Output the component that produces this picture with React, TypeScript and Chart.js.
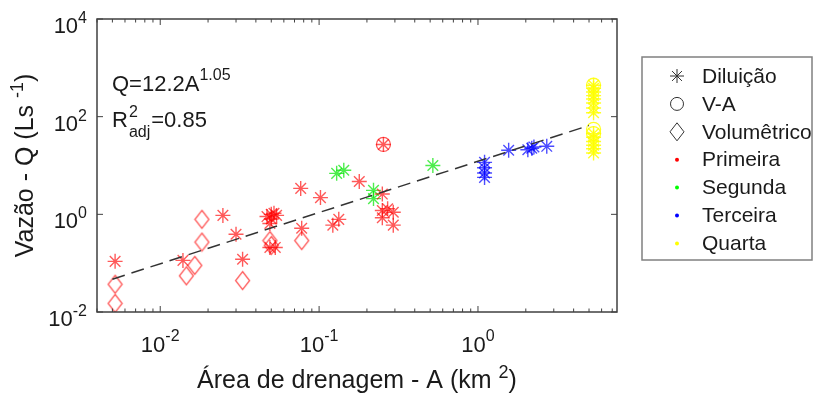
import React, { useEffect, useRef } from "react";
import { Chart, registerables } from "chart.js";

Chart.register(...registerables);

// Axis ranges and tick labels
const X_MIN = 0.004;
const X_MAX = 7.5;
const Y_MIN = 0.01;
const Y_MAX = 10000;
const xTickValues = [0.01, 0.1, 1];
const xTickExps = ["-2", "-1", "0"];
const yTickValues = [0.01, 1, 100, 10000];
const yTickExps = ["-2", "0", "2", "4"];

// Primeira (red) - Diluição
const primeiraDilA = [0.0052, 0.0139, 0.0248, 0.030, 0.033, 0.047, 0.050, 0.052, 0.054, 0.049, 0.050, 0.049, 0.053, 0.0766, 0.102, 0.0777, 0.122, 0.133, 0.179, 0.254, 0.25, 0.25, 0.25, 0.27, 0.293, 0.293];
const primeiraDilQ = [0.109, 0.114, 0.95, 0.39, 0.12, 0.9, 1.0, 1.05, 0.95, 0.65, 0.8, 0.21, 0.21, 3.4, 2.2, 0.52, 0.6, 0.79, 4.7, 27, 2.6, 1.2, 0.85, 1.3, 1.1, 0.6];
// Primeira - Volumétrico
const primeiraVolA = [0.0052, 0.0052, 0.0146, 0.0165, 0.0183, 0.0183, 0.033, 0.049, 0.050, 0.0777];
const primeiraVolQ = [0.037, 0.015, 0.055, 0.09, 0.27, 0.79, 0.044, 0.29, 0.23, 0.29];
// Primeira - V-A
const primeiraVaA = [0.254];
const primeiraVaQ = [27];
// Segunda (green) - Diluição
const segundaDilA = [0.129, 0.143, 0.22, 0.22, 0.52];
const segundaDilQ = [6.9, 8.0, 3.1, 2.1, 10];
// Terceira (blue) - Diluição
const terceiraDilA = [1.1, 1.1, 1.1, 1.1, 1.56, 2.06, 2.18, 2.25, 2.71];
const terceiraDilQ = [11.6, 9, 7, 5.7, 20.5, 21, 22.5, 24, 24.7];
// Quarta (yellow) - Diluição
const quartaDilA = [5.34, 5.34, 5.34, 5.34, 5.34, 5.34, 5.34, 5.34, 5.34, 5.34, 5.34, 5.34, 5.34, 5.34];
const quartaDilQ = [440, 380, 320, 270, 230, 190, 150, 120, 45, 38, 31, 26, 22, 18];
// Quarta - V-A
const quartaVaA = [5.34, 5.34, 5.34];
const quartaVaQ = [440, 55, 45];
// Fit line Q = 12.2 A^1.05 (end points)
const fitA = [0.005, 5.0];
const fitQ = [0.047, 66];

const RED = "rgba(255,0,0,0.65)";
const GREEN = "rgba(0,230,0,0.7)";
const BLUE = "rgba(0,0,255,0.7)";
const YELLOW = "rgba(255,255,0,0.85)";

const FONT = "'Liberation Sans', Arial, sans-serif";

const zip = (a: number[], b: number[]) => a.map((x, i) => ({ x, y: b[i] }));

function diamondPath(ctx: CanvasRenderingContext2D, cx: number, cy: number, w: number, h: number) {
  ctx.beginPath();
  ctx.moveTo(cx, cy - h / 2);
  ctx.lineTo(cx + w / 2, cy);
  ctx.lineTo(cx, cy + h / 2);
  ctx.lineTo(cx - w / 2, cy);
  ctx.closePath();
}

function makeDiamond(color: string) {
  const w = 14, h = 18;
  const c = document.createElement("canvas");
  c.width = w + 3;
  c.height = h + 3;
  const ctx = c.getContext("2d")!;
  ctx.strokeStyle = color;
  ctx.lineWidth = 1.3;
  diamondPath(ctx, c.width / 2, c.height / 2, w, h);
  ctx.stroke();
  return c;
}

function starDataset(data: { x: number; y: number }[], color: string) {
  return {
    data,
    pointStyle: "star",
    pointRadius: 7.5,
    pointBorderWidth: 1.4,
    borderColor: color,
    backgroundColor: color,
    showLine: false,
  };
}

function circleDataset(data: { x: number; y: number }[], color: string) {
  return {
    data,
    pointStyle: "circle",
    pointRadius: 7,
    pointBorderWidth: 1.3,
    borderColor: color,
    backgroundColor: "rgba(0,0,0,0)",
    showLine: false,
  };
}

function drawSupText(
  ctx: CanvasRenderingContext2D,
  base: string,
  sup: string,
  x: number,
  y: number,
  baseSize: number,
  supSize: number,
  supRise: number,
  align: "left" | "center" | "right"
) {
  ctx.font = `${baseSize}px ${FONT}`;
  const wb = ctx.measureText(base).width;
  ctx.font = `${supSize}px ${FONT}`;
  const ws = ctx.measureText(sup).width;
  const total = wb + ws;
  let x0 = x;
  if (align === "center") x0 = x - total / 2;
  if (align === "right") x0 = x - total;
  ctx.textAlign = "left";
  ctx.textBaseline = "alphabetic";
  ctx.font = `${baseSize}px ${FONT}`;
  ctx.fillText(base, x0, y);
  ctx.font = `${supSize}px ${FONT}`;
  ctx.fillText(sup, x0 + wb, y - supRise);
}

const axesPlugin = {
  id: "matlabAxes",
  afterDraw(chart: any) {
    const { ctx } = chart;
    const { left, right, top, bottom } = chart.chartArea;
    const xs = chart.scales.x;
    const ys = chart.scales.y;
    ctx.save();

    // frame
    ctx.strokeStyle = "#404040";
    ctx.lineWidth = 1.5;
    ctx.strokeRect(left, top, right - left, bottom - top);

    // x ticks (major + minor) on bottom and top
    ctx.lineWidth = 1;
    for (let e = -3; e <= 1; e++) {
      for (let m = 1; m <= 9; m++) {
        const v = m * Math.pow(10, e);
        if (v < X_MIN || v > X_MAX) continue;
        const px = xs.getPixelForValue(v);
        const len = m === 1 ? 6 : 3.5;
        ctx.beginPath();
        ctx.moveTo(px, bottom);
        ctx.lineTo(px, bottom - len);
        ctx.moveTo(px, top);
        ctx.lineTo(px, top + len);
        ctx.stroke();
      }
    }
    // y ticks (major only) on left and right
    yTickValues.forEach((v) => {
      const py = ys.getPixelForValue(v);
      ctx.beginPath();
      ctx.moveTo(left, py);
      ctx.lineTo(left + 6, py);
      ctx.moveTo(right, py);
      ctx.lineTo(right - 6, py);
      ctx.stroke();
    });

    ctx.fillStyle = "#1a1a1a";
    // x tick labels
    xTickValues.forEach((v, i) => {
      const px = xs.getPixelForValue(v);
      drawSupText(ctx, "10", xTickExps[i], px, 352, 22, 16, 11, "center");
    });
    // y tick labels
    yTickValues.forEach((v, i) => {
      const py = ys.getPixelForValue(v);
      drawSupText(ctx, "10", yTickExps[i], 87, py + 14, 22, 16, 10, "right");
    });

    // x axis title
    {
      const base = "Área de drenagem - A (km ";
      const sup = "2";
      const tail = ")";
      ctx.font = `25px ${FONT}`;
      const wb = ctx.measureText(base).width;
      const wt = ctx.measureText(tail).width;
      ctx.font = `18px ${FONT}`;
      const ws = ctx.measureText(sup).width;
      const total = wb + ws + wt;
      const cx = (left + right) / 2;
      const x0 = cx - total / 2;
      ctx.textAlign = "left";
      ctx.textBaseline = "alphabetic";
      ctx.font = `25px ${FONT}`;
      ctx.fillText(base, x0, 388);
      ctx.font = `18px ${FONT}`;
      ctx.fillText(sup, x0 + wb, 378);
      ctx.font = `25px ${FONT}`;
      ctx.fillText(tail, x0 + wb + ws, 388);
    }

    // y axis title
    {
      const base = "Vazão - Q (Ls ";
      const sup = "-1";
      const tail = ")";
      ctx.save();
      ctx.translate(33, (top + bottom) / 2);
      ctx.rotate(-Math.PI / 2);
      ctx.font = `25px ${FONT}`;
      const wb = ctx.measureText(base).width;
      const wt = ctx.measureText(tail).width;
      ctx.font = `18px ${FONT}`;
      const ws = ctx.measureText(sup).width;
      const total = wb + ws + wt;
      const x0 = -total / 2;
      ctx.textAlign = "left";
      ctx.textBaseline = "alphabetic";
      ctx.font = `25px ${FONT}`;
      ctx.fillText(base, x0, 0);
      ctx.font = `18px ${FONT}`;
      ctx.fillText(sup, x0 + wb, -10);
      ctx.font = `25px ${FONT}`;
      ctx.fillText(tail, x0 + wb + ws, 0);
      ctx.restore();
    }

    // annotation
    {
      ctx.textAlign = "left";
      ctx.textBaseline = "alphabetic";
      drawSupText(ctx, "Q=12.2A", "1.05", 112, 91, 22, 16, 11, "left");
      ctx.font = `22px ${FONT}`;
      const wR = ctx.measureText("R").width;
      ctx.fillText("R", 112, 127);
      ctx.font = `16px ${FONT}`;
      ctx.fillText("2", 112 + wR + 1, 117);
      const wadj = ctx.measureText("adj").width;
      ctx.fillText("adj", 112 + wR + 1, 137);
      ctx.font = `22px ${FONT}`;
      ctx.fillText("=0.85", 112 + wR + 1 + wadj + 1, 127);
    }

    // legend
    {
      const bx = 642, by = 57, bw = 170, bh = 203;
      ctx.fillStyle = "#ffffff";
      ctx.fillRect(bx, by, bw, bh);
      ctx.strokeStyle = "#808080";
      ctx.lineWidth = 1.5;
      ctx.strokeRect(bx, by, bw, bh);
      const labels = ["Diluição", "V-A", "Volumêtrico", "Primeira", "Segunda", "Terceira", "Quarta"];
      const dotColors = ["#ff0000", "#00ff00", "#0000ff", "#ffff00"];
      const sx = 677;
      labels.forEach((lab, i) => {
        const yy = 76 + i * 27.9;
        ctx.strokeStyle = "#333333";
        ctx.lineWidth = 1;
        if (i === 0) {
          const r = 7;
          ctx.beginPath();
          ctx.moveTo(sx - r, yy); ctx.lineTo(sx + r, yy);
          ctx.moveTo(sx, yy - r); ctx.lineTo(sx, yy + r);
          const d = r * Math.SQRT1_2;
          ctx.moveTo(sx - d, yy - d); ctx.lineTo(sx + d, yy + d);
          ctx.moveTo(sx - d, yy + d); ctx.lineTo(sx + d, yy - d);
          ctx.stroke();
        } else if (i === 1) {
          ctx.beginPath();
          ctx.arc(sx, yy, 6.5, 0, Math.PI * 2);
          ctx.stroke();
        } else if (i === 2) {
          diamondPath(ctx, sx, yy, 14, 18);
          ctx.stroke();
        } else {
          ctx.fillStyle = dotColors[i - 3];
          ctx.beginPath();
          ctx.arc(sx, yy, 2, 0, Math.PI * 2);
          ctx.fill();
        }
        ctx.fillStyle = "#1a1a1a";
        ctx.font = `21px ${FONT}`;
        ctx.textAlign = "left";
        ctx.textBaseline = "middle";
        ctx.fillText(lab, 702, yy + 1);
      });
    }
    ctx.restore();
  },
};

export default function App() {
  const ref = useRef<HTMLCanvasElement | null>(null);

  useEffect(() => {
    document.body.style.margin = "0";
    const canvas = ref.current;
    if (!canvas) return;
    const redDiamond = makeDiamond(RED);

    const chart = new Chart(canvas, {
      type: "scatter",
      data: {
        datasets: [
          {
            data: zip(fitA, fitQ),
            showLine: true,
            borderColor: "#333333",
            borderWidth: 1.5,
            borderDash: [13, 7],
            pointRadius: 0,
            fill: false,
          } as any,
          { data: zip(primeiraVolA, primeiraVolQ), pointStyle: redDiamond, pointRadius: 8, showLine: false } as any,
          starDataset(zip(primeiraDilA, primeiraDilQ), RED) as any,
          circleDataset(zip(primeiraVaA, primeiraVaQ), RED) as any,
          starDataset(zip(segundaDilA, segundaDilQ), GREEN) as any,
          starDataset(zip(terceiraDilA, terceiraDilQ), BLUE) as any,
          starDataset(zip(quartaDilA, quartaDilQ), YELLOW) as any,
          circleDataset(zip(quartaVaA, quartaVaQ), YELLOW) as any,
        ],
      },
      options: {
        animation: false,
        responsive: false,
        layout: { padding: { left: 97, top: 19, right: 197, bottom: 85 } },
        scales: {
          x: { type: "logarithmic", min: X_MIN, max: X_MAX, display: false },
          y: { type: "logarithmic", min: Y_MIN, max: Y_MAX, display: false },
        },
        plugins: { legend: { display: false }, tooltip: { enabled: false } },
        events: [],
      },
      plugins: [axesPlugin],
    });
    return () => chart.destroy();
  }, []);

  return (
    <div style={{ position: "fixed", left: 0, top: 0, width: 814, height: 397, background: "#fff" }}>
      <canvas ref={ref} width={814} height={397} style={{ display: "block" }} />
    </div>
  );
}
